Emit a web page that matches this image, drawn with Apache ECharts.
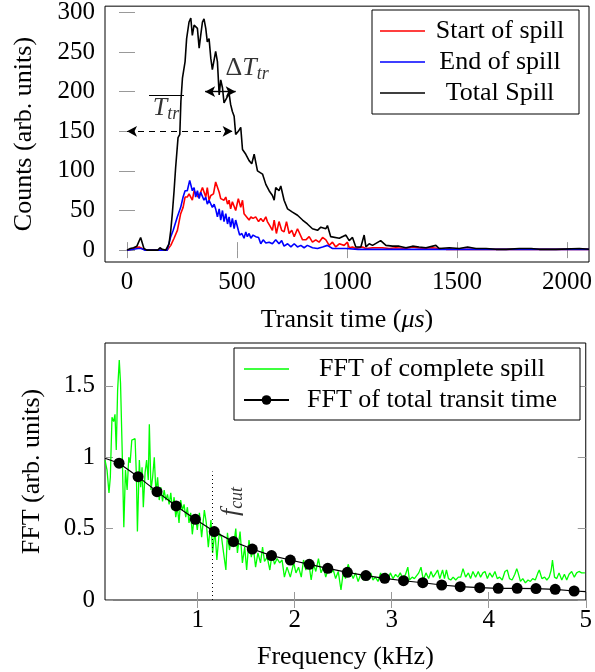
<!DOCTYPE html>
<html><head><meta charset="utf-8">
<script src="https://cdn.jsdelivr.net/npm/echarts@6/dist/echarts.min.js"></script>
<style>html,body{margin:0;padding:0;background:#fff}#c{width:595px;height:672px}</style>
</head><body><div id="c"></div>
<script>
const FONT = 'Liberation Serif';

// ---- top panel: transit time spectra [time (us), counts] ----
const startOfSpill = [[0,0],[20,1],[40,3],[55,4],[62,6],[75,1],[90,0],[183,0],[199,6],[214,15],[229,25],[244,46],[255,54],[264,67],[274,67],[282,71],[297,63],[305,75],[312,77],[323,67],[332,71],[343,79],[350,77],[358,67],[365,79],[373,63],[381,69],[393,71],[403,86],[411,88],[419,73],[426,65],[434,67],[441,63],[449,67],[457,58],[464,63],[471,52],[479,61],[494,50],[506,65],[517,54],[525,63],[532,46],[540,44],[555,38],[563,42],[573,40],[585,42],[598,36],[608,40],[619,36],[631,42],[638,36],[649,31],[661,25],[669,38],[679,21],[691,36],[703,25],[714,23],[725,36],[737,21],[749,25],[760,17],[775,27],[782,25],[798,13],[813,13],[828,17],[843,10],[858,13],[873,10],[889,16],[904,13],[919,6],[934,10],[949,4],[965,8],[987,6],[1002,10],[1010,3],[1025,4],[1040,2],[1070,4],[1086,2],[1116,3],[1161,3],[1192,2],[1222,3],[1268,2],[1298,4],[1344,2],[1389,3],[1450,1],[1550,1],[1700,1],[1900,1],[2100,1]];
const endOfSpill = [[0,0],[30,1],[50,2],[65,2],[80,0],[183,0],[199,17],[210,25],[219,27],[229,42],[244,54],[255,67],[264,75],[274,75],[285,88],[290,90],[297,75],[305,79],[312,67],[320,75],[328,65],[335,73],[343,71],[350,63],[358,67],[365,58],[373,63],[388,54],[396,58],[403,52],[411,42],[419,52],[426,38],[434,50],[441,36],[449,46],[457,33],[464,42],[471,29],[479,40],[487,27],[494,38],[506,25],[512,19],[522,21],[532,15],[540,23],[547,17],[555,21],[563,15],[573,19],[585,17],[598,16],[608,8],[619,13],[631,9],[646,10],[661,8],[676,13],[691,8],[703,12],[714,5],[730,8],[745,4],[760,8],[775,4],[790,6],[805,3],[820,6],[843,3],[866,2],[889,4],[911,6],[934,2],[965,2],[995,2],[1050,1],[1200,1],[1500,1],[1800,1],[2100,1]];
const totalSpill = [[0,0],[15,2],[30,3],[45,5],[62,16],[77,2],[90,0],[140,0],[150,3],[160,1],[176,0],[191,8],[199,25],[206,46],[214,75],[221,104],[232,142],[240,146],[245,188],[252,217],[264,238],[271,267],[282,288],[290,293],[297,271],[305,284],[312,286],[320,280],[328,255],[335,271],[343,288],[350,292],[358,280],[365,263],[373,267],[381,242],[388,228],[396,228],[403,251],[411,238],[419,196],[426,215],[434,205],[441,186],[449,184],[457,194],[464,198],[471,184],[479,175],[487,169],[494,146],[506,150],[517,155],[525,127],[540,121],[555,113],[567,109],[578,121],[593,100],[616,96],[631,83],[646,75],[661,69],[669,63],[676,79],[691,75],[699,81],[714,63],[730,52],[752,48],[775,44],[798,38],[820,33],[843,27],[866,25],[881,29],[904,27],[911,31],[926,17],[965,15],[995,19],[1010,12],[1025,16],[1040,4],[1063,4],[1078,19],[1086,4],[1101,8],[1116,6],[1153,12],[1177,6],[1207,5],[1237,5],[1268,3],[1298,5],[1328,4],[1359,3],[1404,6],[1419,2],[1465,3],[1510,2],[1548,4],[1586,2],[1632,2],[1677,1],[1723,1],[1783,2],[1837,2],[1874,1],[1950,1],[2056,2],[2100,1]];

// ---- bottom panel: FFT [frequency (kHz), amplitude] ----
const fftSpill = [[0.045,0.98],[0.066,0.91],[0.086,0.75],[0.100,0.86],[0.117,1.28],[0.134,1.25],[0.148,1.30],[0.161,1.05],[0.175,1.47],[0.192,1.68],[0.205,1.52],[0.222,1.05],[0.239,0.51],[0.256,0.91],[0.273,0.77],[0.290,1.00],[0.304,0.96],[0.321,1.12],[0.338,1.11],[0.355,1.13],[0.369,0.86],[0.379,0.48],[0.399,0.98],[0.413,0.79],[0.427,0.93],[0.440,0.65],[0.458,0.89],[0.474,0.98],[0.491,0.84],[0.502,1.23],[0.519,0.77],[0.536,0.86],[0.553,1.00],[0.570,0.75],[0.587,0.86],[0.604,0.70],[0.621,0.79],[0.638,0.69],[0.655,0.77],[0.672,0.70],[0.689,0.74],[0.706,0.67],[0.723,0.75],[0.740,0.63],[0.757,0.72],[0.774,0.58],[0.791,0.65],[0.808,0.54],[0.825,0.70],[0.843,0.63],[0.860,0.67],[0.877,0.58],[0.894,0.65],[0.911,0.54],[0.928,0.61],[0.945,0.46],[0.962,0.56],[0.979,0.58],[0.996,0.49],[1.018,0.61],[1.041,0.44],[1.069,0.63],[1.089,0.54],[1.110,0.37],[1.137,0.56],[1.154,0.33],[1.178,0.49],[1.198,0.28],[1.222,0.47],[1.246,0.44],[1.267,0.33],[1.291,0.21],[1.307,0.47],[1.328,0.35],[1.349,0.44],[1.369,0.37],[1.393,0.50],[1.410,0.33],[1.437,0.48],[1.461,0.26],[1.485,0.37],[1.505,0.21],[1.529,0.42],[1.553,0.30],[1.573,0.37],[1.597,0.23],[1.621,0.33],[1.648,0.26],[1.669,0.37],[1.689,0.27],[1.717,0.30],[1.744,0.21],[1.768,0.33],[1.792,0.25],[1.819,0.29],[1.846,0.26],[1.870,0.28],[1.894,0.16],[1.921,0.23],[1.955,0.16],[1.990,0.26],[2.013,0.19],[2.040,0.23],[2.068,0.16],[2.091,0.28],[2.115,0.21],[2.143,0.27],[2.170,0.14],[2.194,0.25],[2.218,0.20],[2.245,0.29],[2.272,0.19],[2.296,0.23],[2.320,0.16],[2.347,0.22],[2.374,0.19],[2.398,0.21],[2.422,0.15],[2.449,0.20],[2.477,0.07],[2.500,0.19],[2.524,0.15],[2.551,0.25],[2.579,0.19],[2.603,0.15],[2.627,0.19],[2.654,0.13],[2.681,0.18],[2.705,0.14],[2.729,0.16],[2.756,0.14],[2.784,0.19],[2.807,0.14],[2.831,0.16],[2.859,0.13],[2.886,0.19],[2.910,0.14],[2.938,0.19],[2.962,0.14],[2.986,0.19],[3.013,0.15],[3.040,0.18],[3.064,0.16],[3.088,0.19],[3.115,0.15],[3.143,0.18],[3.166,0.23],[3.183,0.14],[3.211,0.16],[3.234,0.15],[3.251,0.16],[3.279,0.19],[3.302,0.23],[3.326,0.14],[3.353,0.19],[3.381,0.15],[3.405,0.20],[3.428,0.16],[3.456,0.19],[3.473,0.21],[3.496,0.15],[3.524,0.21],[3.544,0.15],[3.564,0.21],[3.585,0.15],[3.609,0.14],[3.633,0.16],[3.660,0.14],[3.687,0.16],[3.711,0.16],[3.735,0.22],[3.762,0.16],[3.790,0.19],[3.813,0.15],[3.837,0.20],[3.865,0.16],[3.892,0.20],[3.916,0.16],[3.940,0.19],[3.962,0.20],[3.986,0.15],[4.010,0.19],[4.037,0.16],[4.064,0.20],[4.088,0.15],[4.112,0.16],[4.139,0.14],[4.167,0.20],[4.191,0.21],[4.214,0.15],[4.241,0.14],[4.269,0.18],[4.289,0.22],[4.303,0.19],[4.327,0.13],[4.351,0.15],[4.378,0.12],[4.405,0.14],[4.429,0.13],[4.453,0.15],[4.480,0.14],[4.507,0.19],[4.521,0.21],[4.548,0.15],[4.576,0.16],[4.599,0.14],[4.623,0.16],[4.644,0.21],[4.657,0.28],[4.678,0.16],[4.701,0.15],[4.725,0.19],[4.753,0.14],[4.780,0.18],[4.804,0.14],[4.828,0.18],[4.855,0.20],[4.882,0.16],[4.906,0.19],[4.930,0.20],[4.957,0.19],[4.991,0.19]];
const fftTransitFreq = [0.045,0.19,0.386,0.581,0.778,0.976,1.171,1.369,1.563,1.761,1.955,2.150,2.341,2.543,2.734,2.928,3.122,3.320,3.515,3.706,3.907,4.098,4.293,4.487,4.685,4.880,5.0];
const fftTransitVal  = [0.993,0.958,0.864,0.759,0.659,0.565,0.479,0.409,0.357,0.311,0.280,0.250,0.222,0.194,0.171,0.152,0.135,0.121,0.105,0.093,0.086,0.082,0.082,0.080,0.075,0.063,0.058];

// ---- ticks ----
const transitTicks = [0,500,1000,1500,2000];
const countTicks = [0,50,100,150,200,250,300];
const freqTicks = [1,2,3,4,5];
const fftTicks = [0,0.5,1,1.5];

// ---- annotations (data coordinates) ----
const meanTransitArrow = [[0,150],[480,150]];
const meanTransitBar = [[100,195],[259,195]];
const meanTransitLabelAt = [177,178];
const spreadArrow = [[355,200],[494,200]];
const spreadLabelAt = [546,228];
const fcut = 1.147, fcutTop = 0.9;
const fcutLabelAt = [1.355,0.69];

// plain line legend icon (thin bar centred in the icon box)
const LINE_ICON = 'path://M0,0L0.01,0M0,5.2L45,5.2L45,6.8L0,6.8ZM0,12L0.01,12';

const tickStyle = {show:true, inside:true, length:8, lineStyle:{color:'#999', width:1}};
const lblStyle = {color:'#000', fontFamily:FONT, fontSize:25, formatter:v=>String(v)};
const nameStyle = {color:'#000', fontFamily:FONT, fontSize:26};
const subRich = {
  t:{fontFamily:FONT, fontSize:26, fontStyle:'italic', color:'#000', lineHeight:28, verticalAlign:'top'},
  d:{fontFamily:FONT, fontSize:26, color:'#000', lineHeight:28, verticalAlign:'top'},
  s:{fontFamily:FONT, fontSize:18, fontStyle:'italic', color:'#000', verticalAlign:'bottom'}
};

function xA(grid, min, max, ticks, pos, labels, extra){
  return Object.assign({type:'value', gridIndex:grid, min, max, position:pos,
    axisLine:{show:false}, splitLine:{show:false},
    axisTick:Object.assign({customValues:ticks}, tickStyle),
    axisLabel:labels ? Object.assign({customValues:ticks, margin:8}, lblStyle) : {show:false}
  }, extra||{});
}
function yA(grid, min, max, ticks, pos, labels, extra){
  return Object.assign({type:'value', gridIndex:grid, min, max, position:pos,
    axisLine:{show:false}, splitLine:{show:false},
    axisTick:Object.assign({customValues:ticks}, tickStyle),
    axisLabel:labels ? Object.assign({customValues:ticks, margin:10}, lblStyle) : {show:false}
  }, extra||{});
}

const chart = echarts.init(document.getElementById('c'));
chart.setOption({
  animation:false,
  backgroundColor:'#fff',
  grid:[
    {left:105, top:4, width:484, height:258, show:true, borderColor:'#000', borderWidth:1, backgroundColor:'transparent'},
    {left:105, top:343, width:484, height:257, show:true, borderColor:'#000', borderWidth:1, backgroundColor:'transparent'}
  ],
  xAxis:[
    xA(0,-100,2100,transitTicks,'bottom',true,{name:'{n|Transit time (}{i|μs}{n|)}', nameLocation:'middle', nameGap:45,
      nameTextStyle:Object.assign({rich:{n:nameStyle, i:Object.assign({fontStyle:'italic'},nameStyle)}}, nameStyle)}),
    xA(0,-100,2100,transitTicks,'top',false),
    xA(1,0.045,5,freqTicks,'bottom',true,{name:'Frequency (kHz)', nameLocation:'middle', nameGap:44, nameTextStyle:nameStyle}),
    xA(1,0.045,5,freqTicks,'top',false)
  ],
  yAxis:[
    yA(0,-15,308,countTicks,'left',true,{name:'Counts (arb. units)', nameLocation:'middle', nameGap:68, nameTextStyle:nameStyle}),
    yA(0,-15,308,countTicks,'right',false),
    yA(1,0,1.8,fftTicks,'left',true,{name:'FFT (arb. units)', nameLocation:'middle', nameGap:60, nameTextStyle:nameStyle}),
    yA(1,0,1.8,fftTicks,'right',false)
  ],
  legend:[
    {data:[{name:'Start of spill', icon:LINE_ICON},{name:'End of spill', icon:LINE_ICON},{name:'Total Spill', icon:LINE_ICON}],
     orient:'vertical', left:372, top:10,
     padding:[8,9,8,8], itemWidth:45, itemHeight:12, itemGap:5, itemTextGap:5,
     borderColor:'#000', borderWidth:1, borderRadius:0, backgroundColor:'#fff', selectedMode:false,
     formatter:n=>'{c|'+n+'}',
     textStyle:{color:'#000', fontFamily:FONT, fontSize:26, rich:{c:{width:140, align:'center', fontFamily:FONT, fontSize:26, lineHeight:24, color:'#000'}}}},
    {data:[{name:'FFT of complete spill', icon:LINE_ICON},'FFT of total transit time'], orient:'vertical', left:234, top:348,
     padding:[8,10,7,9], itemWidth:45, itemHeight:12, itemGap:5, itemTextGap:5,
     borderColor:'#000', borderWidth:1, borderRadius:0, backgroundColor:'#fff', selectedMode:false,
     formatter:n=>'{c|'+n+'}',
     textStyle:{color:'#000', fontFamily:FONT, fontSize:26, rich:{c:{width:276, align:'center', fontFamily:FONT, fontSize:26, lineHeight:24, color:'#000'}}}}
  ],
  series:[
    {name:'Start of spill', type:'line', xAxisIndex:0, yAxisIndex:0, data:startOfSpill, symbol:'none',
     color:'#ff0000', lineStyle:{color:'#ff0000', width:1.6}},
    {name:'End of spill', type:'line', xAxisIndex:0, yAxisIndex:0, data:endOfSpill, symbol:'none',
     color:'#0000ff', lineStyle:{color:'#0000ff', width:1.6}},
    {name:'Total Spill', type:'line', xAxisIndex:0, yAxisIndex:0, data:totalSpill, symbol:'none',
     color:'#000', lineStyle:{color:'#000', width:1.6},
     markLine:{silent:true, symbol:['arrow','arrow'], symbolSize:[8,10], label:{show:false},
       data:[
         [{coord:meanTransitArrow[0], lineStyle:{color:'#000', width:1.2, type:[6,5]}}, {coord:meanTransitArrow[1]}],
         [{coord:spreadArrow[0], lineStyle:{color:'#000', width:1.4, type:'solid'}}, {coord:spreadArrow[1]}],
         [{coord:meanTransitBar[0], symbol:'none', lineStyle:{color:'#000', width:1.2, type:'solid'}}, {coord:meanTransitBar[1], symbol:'none'}]
       ]}},
    {name:'annotTop', type:'scatter', xAxisIndex:0, yAxisIndex:0, symbolSize:0, silent:true,
     label:{show:true, position:'inside', rich:subRich},
     data:[
       {value:meanTransitLabelAt, label:{formatter:'{t|T}{s|tr}'}},
       {value:spreadLabelAt, label:{formatter:'{d|Δ}{t|T}{s|tr}'}}
     ]},
    {name:'FFT of complete spill', type:'line', xAxisIndex:2, yAxisIndex:2, data:fftSpill, symbol:'none',
     color:'#00ff00', lineStyle:{color:'#00ff00', width:1.3}},
    {name:'FFT of total transit time', type:'line', xAxisIndex:2, yAxisIndex:2,
     data:fftTransitFreq.map((f,i)=>(i===0||i===fftTransitFreq.length-1) ? {value:[f,fftTransitVal[i]], symbol:'none'} : [f,fftTransitVal[i]]),
     symbol:'circle', symbolSize:11, showAllSymbol:true,
     color:'#000', itemStyle:{color:'#000'}, lineStyle:{color:'#000', width:1.2},
     markLine:{silent:true, symbol:['none','none'], label:{show:false},
       data:[[{coord:[fcut,0], lineStyle:{color:'#000', width:1, type:[1,3]}}, {coord:[fcut,fcutTop]}]]}},
    {name:'annotBottom', type:'scatter', xAxisIndex:2, yAxisIndex:2, symbolSize:0, silent:true,
     label:{show:true, position:'inside', rotate:90, rich:subRich},
     data:[{value:fcutLabelAt, label:{formatter:'{t|f}{s|cut}'}}]}
  ]
});
</script></body></html>
